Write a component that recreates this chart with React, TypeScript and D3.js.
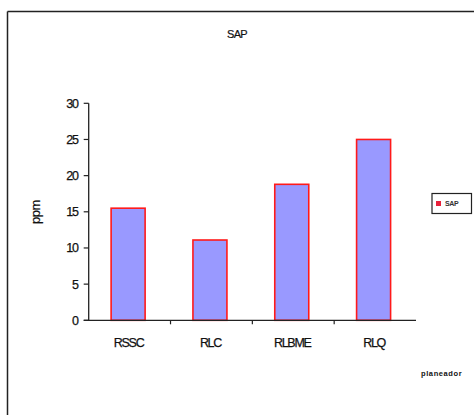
import React from "react";
import * as d3 from "d3";

const categories = ["RSSC", "RLC", "RLBME", "RLQ"];
const sapValues = [15.5, 11.1, 18.8, 25.0];
const yTicks = [0, 5, 10, 15, 20, 25, 30];
const seriesName = "SAP";
const yLabel = "ppm";
const footNote = "planeador";

const W = 474;
const H = 415;
const font = "'Liberation Sans', Arial, sans-serif";

export default function App() {
  const x0 = 88.7;
  const x1 = 416;
  const yTop = 103.3;
  const yBottom = 320.3;

  const x = d3.scaleBand<string>().domain(categories).range([x0, x1]).paddingInner(0).paddingOuter(0);
  const y = d3.scaleLinear().domain([0, 30]).range([yBottom, yTop]);
  const barW = 34;

  return (
    <svg
      width={W}
      height={H}
      style={{ position: "absolute", left: 0, top: 0, background: "#fff" }}
      fontFamily={font}
    >
      <rect x={0} y={0} width={W} height={H} fill="#fff" />
      {/* frame */}
      <line x1={7.5} y1={11.5} x2={W} y2={11.5} stroke="#222" strokeWidth={1.5} />
      <line x1={7.5} y1={11.5} x2={7.5} y2={H} stroke="#222" strokeWidth={1.5} />

      <text x={237} y={38} textAnchor="middle" fontSize={11} letterSpacing={-0.6} fill="#111" stroke="#111" strokeWidth={0.2}>
        {seriesName}
      </text>

      {/* bars */}
      {categories.map((c, i) => {
        const cx = (x(c) as number) + x.bandwidth() / 2 - 1.5;
        const top = y(sapValues[i]);
        return (
          <rect
            key={c}
            x={cx - barW / 2}
            y={top}
            width={barW}
            height={yBottom - top}
            fill="#9999ff"
            stroke="#ff1a1a"
            strokeWidth={1.6}
          />
        );
      })}

      {/* y axis */}
      <line x1={x0} y1={yTop} x2={x0} y2={yBottom} stroke="#222" strokeWidth={1.3} />
      {yTicks.map((t) => (
        <g key={t}>
          <line x1={x0 - 5} y1={y(t)} x2={x0} y2={y(t)} stroke="#222" strokeWidth={1.2} />
          <text
            x={x0 - 11}
            y={y(t)}
            dy="0.36em"
            textAnchor="end"
            fontSize={12.5}
            letterSpacing={-1.2}
            fill="#111"
            stroke="#111"
            strokeWidth={0.25}
          >
            {t}
          </text>
        </g>
      ))}
      <text
        transform={`translate(40,${212}) rotate(-90)`}
        textAnchor="middle"
        fontSize={13}
        letterSpacing={-0.5}
        fill="#111"
        stroke="#111"
        strokeWidth={0.2}
      >
        {yLabel}
      </text>

      {/* x axis */}
      <line x1={x0 - 5} y1={yBottom} x2={x1} y2={yBottom} stroke="#222" strokeWidth={1.3} />
      {categories.slice(1).map((c) => (
        <line
          key={c}
          x1={x(c) as number}
          y1={yBottom}
          x2={x(c) as number}
          y2={yBottom + 4}
          stroke="#222"
          strokeWidth={1.2}
        />
      ))}
      {categories.map((c) => (
        <text
          key={c}
          x={(x(c) as number) + x.bandwidth() / 2 - 1}
          y={347}
          textAnchor="middle"
          fontSize={12.5}
          letterSpacing={-1.3}
          fill="#111"
          stroke="#111"
          strokeWidth={0.25}
        >
          {c}
        </text>
      ))}

      {/* legend */}
      <rect x={432} y={193.5} width={39.5} height={20} fill="#fff" stroke="#222" strokeWidth={1.2} />
      <rect x={436} y={201} width={5} height={5} fill="#e8203a" />
      <text x={445} y={206} fontSize={7} fontWeight="bold" fill="#333" letterSpacing={-0.3}>
        {seriesName}
      </text>

      <text x={421} y={376} fontSize={7.5} fontWeight="bold" fill="#111" letterSpacing={0.6}>
        {footNote}
      </text>
    </svg>
  );
}
